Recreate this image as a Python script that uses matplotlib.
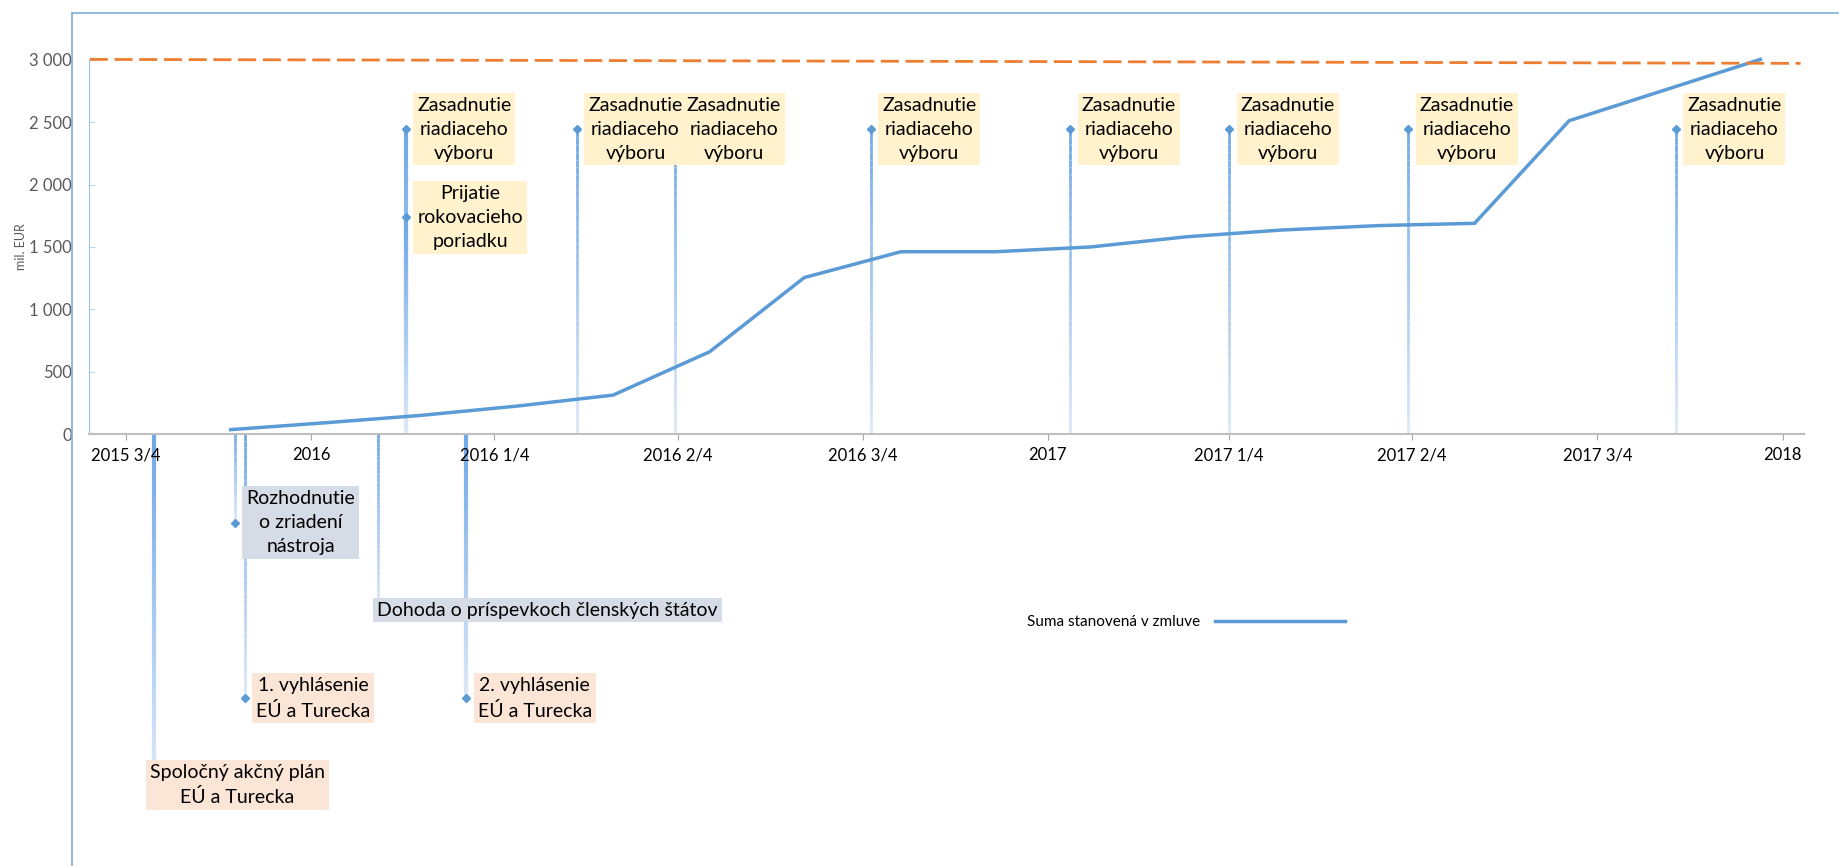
import numpy as np
import pandas as pd
import matplotlib
matplotlib.use('Agg')
import matplotlib.pyplot as plt
import matplotlib.dates as mdates
from matplotlib.collections import LineCollection
from matplotlib.colors import to_rgb
from matplotlib.ticker import FuncFormatter

plt.rcParams['font.family'] = ['Lato', 'DejaVu Sans']

# Suma stanovená v zmluve (mil. EUR)
suma_datumy = ['2015-11-22', '2016-01-08', '2016-02-25', '2016-04-13', '2016-05-30',
               '2016-07-17', '2016-09-02', '2016-10-20', '2016-12-06', '2017-01-22',
               '2017-03-11', '2017-04-27', '2017-06-15', '2017-08-01', '2017-09-17',
               '2017-12-21']
suma_hodnoty = [35, 90, 150, 225, 312, 660, 1255, 1462, 1462, 1500,
                1582, 1636, 1672, 1690, 2513, 3005]

# Celkovy rozpocet (prerusovana ciara)
limit_datumy = ['2015-09-13', '2018-01-10']
limit_hodnoty = [3005, 2973]

# Udalosti nad osou
hore_datumy = ['2016-02-17', '2016-02-17', '2016-05-12', '2016-06-30', '2016-10-05',
               '2017-01-12', '2017-04-01', '2017-06-29', '2017-11-09']
hore_vysky = [2446, 1738, 2446, 2446, 2446, 2446, 2446, 2446, 2446]
hore_texty = ['Zasadnutie\nriadiaceho\nvýboru', 'Prijatie\nrokovacieho\nporiadku'] + \
             ['Zasadnutie\nriadiaceho\nvýboru'] * 7

# Udalosti pod osou
dole_datumy = ['2015-10-15', '2015-11-24', '2015-11-29', '2016-02-03', '2016-03-18']
dole_vysky = [-2815, -711, -2120, -1412, -2120]
dole_texty = ['Spoločný akčný plán\nEÚ a Turecka', 'Rozhodnutie\no zriadení\nnástroja',
              '1. vyhlásenie\nEÚ a Turecka', 'Dohoda o príspevkoch členských štátov',
              '2. vyhlásenie\nEÚ a Turecka']
dole_druh = ['eu_tr', 'eu', 'eu_tr', 'eu', 'eu_tr']

# Popisy osi x
stvrtroky = ['2015-10-01', '2016-01-01', '2016-04-01', '2016-07-01', '2016-10-01',
             '2017-01-01', '2017-04-01', '2017-07-01', '2017-10-01', '2018-01-01']
stvrtroky_popisy = ['2015 3/4', '2016', '2016 1/4', '2016 2/4', '2016 3/4',
                    '2017', '2017 1/4', '2017 2/4', '2017 3/4', '2018']

farby_boxov = {'vybor': '#FFF2CC', 'eu_tr': '#FBE5D6', 'eu': '#D6DCE5'}


def d2n(zoznam):
    return mdates.date2num(pd.to_datetime(zoznam))


def gradient_ciara(ax, x, y_a, y_b, lw):
    # zvisla ciara, hore tmavsia, dole svetlejsia
    y_min, y_max = min(y_a, y_b), max(y_a, y_b)
    ys = np.linspace(y_max, y_min, 41)
    hore = np.array(to_rgb('#6FA8E6'))
    dole = np.array(to_rgb('#DCE8F8'))
    segs = [[(x, ys[i]), (x, ys[i + 1])] for i in range(40)]
    farby = [hore + (dole - hore) * i / 39 for i in range(40)]
    ax.add_collection(LineCollection(segs, colors=farby, linewidths=lw, zorder=1,
                                     capstyle='butt'))


W, H = 1840, 866
fig = plt.figure(figsize=(W / 100, H / 100), dpi=100)
ax = fig.add_axes([72 / W, 0, 1 - 72 / W, 1 - 13 / H])

# mierka: 2015-10-01 je na x=126 px, 2.0128 px na den; 0 je na y=434 px
start = d2n(['2015-10-01'])[0]
px_den = 2.0128
px_hodn = 0.12467
ax.set_xlim(start - (126 - 72) / px_den, start + (W - 126) / px_den)
ax.set_ylim((434 - H) / px_hodn, (434 - 13) / px_hodn)

x_hore = d2n(hore_datumy)
x_dole = d2n(dole_datumy)

# ciary udalosti
lw_hore = [3, 3, 2, 2, 2, 2, 2, 2, 2]
for x, y, lw in zip(x_hore, hore_vysky, lw_hore):
    gradient_ciara(ax, x, 0, y, lw)
lw_dole = [3, 2, 2, 2, 3]
for x, y, lw in zip(x_dole, dole_vysky, lw_dole):
    gradient_ciara(ax, x, 0, y, lw)

ax.plot(x_hore, hore_vysky, 'D', color='#5B9BD5', markersize=4.5, zorder=4)
ax.plot(x_dole, dole_vysky, 'D', color='#5B9BD5', markersize=4.5, zorder=4)

# hlavna krivka a limit
ciara, = ax.plot(d2n(suma_datumy), suma_hodnoty, color='#5B9BD5', lw=2.5, zorder=3,
                 solid_joinstyle='miter')
ax.plot(d2n(limit_datumy), limit_hodnoty, color='#ED7D31', lw=2, dashes=(6.5, 2.4), zorder=3)

# popisy udalosti
dx_hore = [11.5] * 9
for x, y, t, dx in zip(x_hore, hore_vysky, hore_texty, dx_hore):
    ax.annotate(t, xy=(x, y), xytext=(dx, 0), textcoords='offset pixels',
                ha='left', va='center', multialignment='center', fontsize=14,
                linespacing=1.5, zorder=5,
                bbox=dict(boxstyle='square,pad=0.2', fc=farby_boxov['vybor'], ec='none'))
dx_dole = [-4.5, 11.5, 11.5, -0.5, 11.5]
for x, y, t, druh, dx in zip(x_dole, dole_vysky, dole_texty, dole_druh, dx_dole):
    ax.annotate(t, xy=(x, y), xytext=(dx, 0), textcoords='offset pixels',
                ha='left', va='center', multialignment='center', fontsize=14,
                linespacing=1.5, zorder=5,
                bbox=dict(boxstyle='square,pad=0.2', fc=farby_boxov[druh], ec='none'))

# osi
x_lavy = start - 37.3 / px_den
ax.spines['top'].set_visible(False)
ax.spines['right'].set_visible(False)
ax.spines['left'].set_position(('data', x_lavy))
ax.spines['left'].set_bounds(0, 3000)
ax.spines['left'].set_color('#9DC3E6')
ax.spines['bottom'].set_position(('data', 0))
ax.spines['bottom'].set_bounds(x_lavy, start + 833.7)
ax.spines['bottom'].set_color('#BFBFBF')
ax.spines['bottom'].set_linewidth(1.5)

ax.set_xticks(d2n(stvrtroky))
ax.set_xticklabels(stvrtroky_popisy)
ax.tick_params(axis='x', direction='out', length=4.5, color='#A6A6A6', labelsize=12,
               labelcolor='black', pad=5)
ax.set_yticks(range(0, 3001, 500))
ax.yaxis.set_major_formatter(FuncFormatter(lambda v, p: f'{v:,.0f}'.replace(',', ' ')))
ax.tick_params(axis='y', direction='in', length=4, color='#BDD7EE', labelsize=12,
               labelcolor='#595959', pad=12)

fig.text(21 / W, 1 - 247 / H, 'mil. EUR', rotation=90, ha='center', va='center',
         fontsize=9, color='#595959')

# ramcek grafu
fig.add_artist(plt.Line2D([72 / W, 72 / W], [0, 1 - 13 / H], transform=fig.transFigure,
                          color='#7FAEDD', lw=1.2))
fig.add_artist(plt.Line2D([72 / W, 1], [1 - 13 / H, 1 - 13 / H], transform=fig.transFigure,
                          color='#7FAEDD', lw=1.2))

ax.legend([ciara], ['Suma stanovená v zmluve'], markerfirst=False, frameon=False,
          fontsize=11, handlelength=8.5, handletextpad=1.0,
          loc='center', bbox_to_anchor=(1186 / W, 1 - 622 / H), bbox_transform=fig.transFigure)

fig.savefig('out.png', dpi=100)
